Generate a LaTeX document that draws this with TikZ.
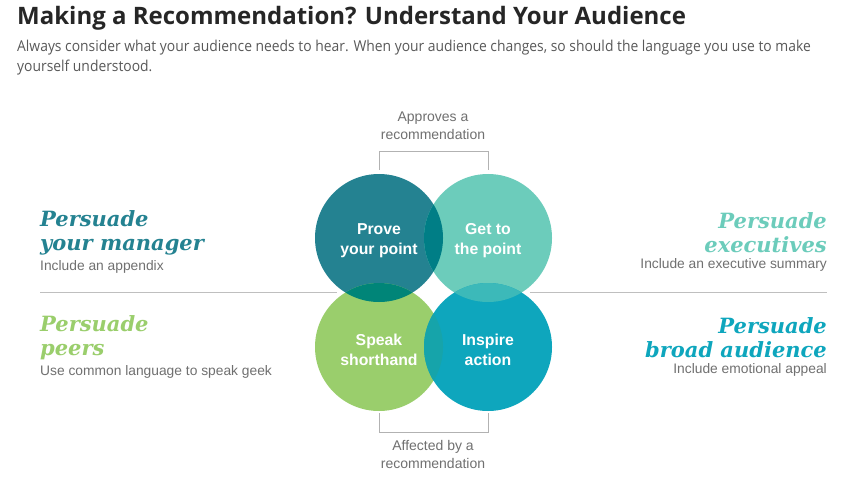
\documentclass[tikz,border=0pt]{standalone}
\usepackage{fontspec}
\setmainfont{Liberation Sans}
\newfontfamily\titlefont{Open Sans}
\newfontfamily\introfont[FakeStretch=0.925]{Open Sans}
\newfontfamily\headfont{DejaVu Serif}
\usetikzlibrary{positioning}
\definecolor{figTL}{RGB}{36,130,145}
\definecolor{figTR}{RGB}{108,204,187}
\definecolor{figBL}{RGB}{154,206,108}
\definecolor{figBR}{RGB}{14,166,189}
\definecolor{figTop}{RGB}{0,126,134}
\definecolor{figLeft}{RGB}{0,133,120}
\definecolor{figRight}{RGB}{60,185,185}
\definecolor{figBot}{RGB}{22,164,170}
\definecolor{figTxt}{RGB}{112,112,112}

\begin{document}
\begin{tikzpicture}[x=1pt,y=-1pt,
  venn/.style={circle,minimum size=128pt,inner sep=0pt},
  vtext/.style={inner sep=0pt,text=white,align=center,font=\fontsize{15.8}{20}\selectfont\bfseries},
  head/.style={inner sep=0pt,font=\fontsize{21}{24}\selectfont\headfont\bfseries\itshape},
  note/.style={inner sep=0pt,text=figTxt,font=\fontsize{13.8}{16}\selectfont},
  bracket/.style={black!30,line width=0.8pt}]
\useasboundingbox[fill=white] (0,0) rectangle (845,489);
\node[anchor=base west,inner sep=0pt,text=black!85,font=\fontsize{24}{26}\selectfont\titlefont\bfseries] (title) at (17,25) {Making a Recommendation? Understand Your Audience};
\node[anchor=north west,inner sep=0pt,align=left,text=black!65,font=\fontsize{15}{20}\selectfont\introfont] (intro) at (17,40) {Always consider what your audience needs to hear. When your audience changes, so should the language you use to make\\yourself understood.};
% divider
\coordinate (dl1) at (40,292); \coordinate (dl2) at (337,292);
\coordinate (dr1) at (530,292); \coordinate (dr2) at (827,292);
\draw[black!25,line width=0.8pt] (dl1)--(dl2) (dr1)--(dr2);
% circles
\node[venn,fill=figTL] (prove) at (379,238) {};
\node[venn,fill=figTR] (getto) at (488,238) {};
\node[venn,fill=figBL] (speak) at (379,347) {};
\node[venn,fill=figBR] (inspire) at (488,347) {};
\begin{scope}\clip (379,238) circle (64); \fill[figTop] (488,238) circle (64); \fill[figLeft] (379,347) circle (64);\end{scope}
\begin{scope}\clip (488,347) circle (64); \fill[figRight] (488,238) circle (64); \fill[figBot] (379,347) circle (64);\end{scope}
\node[vtext] at ([yshift=-3pt]prove.center) {Prove\\your point};
\node[vtext] at ([yshift=-3pt]getto.center) {Get to\\the point};
\node[vtext] at ([yshift=-3pt]speak.center) {Speak\\shorthand};
\node[vtext] at ([yshift=-3pt]inspire.center) {Inspire\\action};
% brackets
\node[note,align=center,font=\fontsize{14}{18}\selectfont] (approve) at (433,126) {Approves a\\recommendation};
\node[note,align=center,font=\fontsize{14}{18}\selectfont] (affect) at (433,454) {Affected by a\\recommendation};
\draw[bracket] ([yshift=4pt]prove.north) -- ++(0,-18) -| ([yshift=4pt]getto.north);
\draw[bracket] ([yshift=-2pt]speak.south) -- ++(0,19) -| ([yshift=-2pt]inspire.south);
% audiences
\node[head,text=figTL,anchor=west,align=left] (mgr) at (40,233) {Persuade\\your manager};
\node[note,below=5pt of mgr.south west,anchor=north west] (mgrnote) {Include an appendix};
\node[head,text=figBL,anchor=west,align=left] (peers) at (40,338) {Persuade\\peers};
\node[note,below=5pt of peers.south west,anchor=north west] (peersnote) {Use common language to speak geek};
\node[head,text=figTR,anchor=east,align=right] (exec) at (827,233) {Persuade\\executives};
\node[note,below=5pt of exec.south east,anchor=north east] (execnote) {Include an executive summary};
\node[head,text=figBR,anchor=east,align=right] (broad) at (827,338) {Persuade\\broad audience};
\node[note,below=5pt of broad.south east,anchor=north east] (broadnote) {Include emotional appeal};
\end{tikzpicture}
\end{document}
